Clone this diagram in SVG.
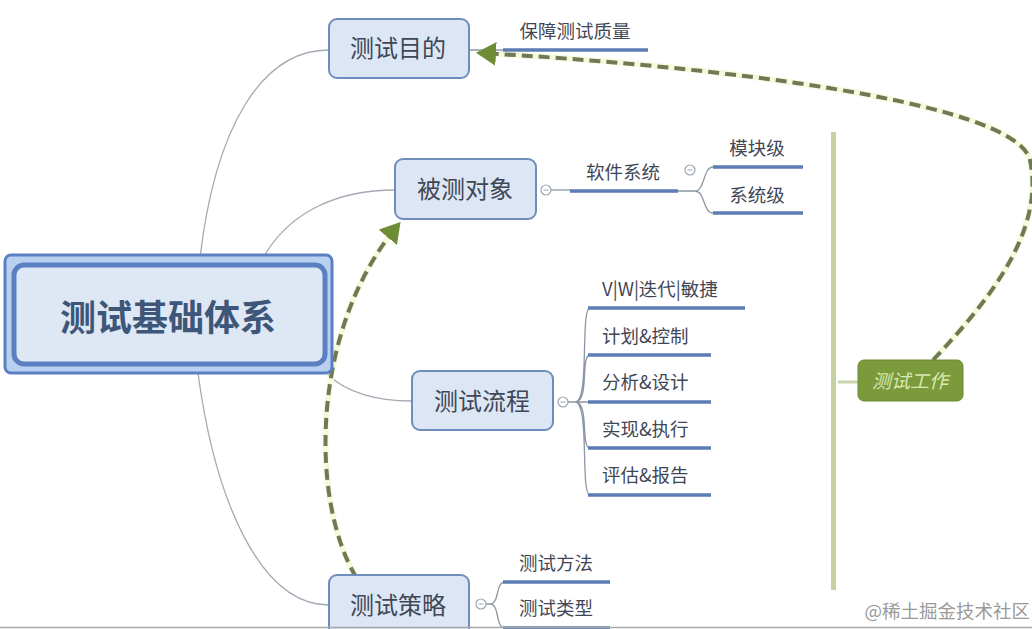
<svg xmlns="http://www.w3.org/2000/svg" width="1032" height="629" viewBox="0 0 1032 629">
<style>
.t{font-family:"Noto Sans CJK SC","Liberation Sans",sans-serif;fill:#3f4756}
.n{fill:#dce6f4;stroke:#6f8dbb;stroke-width:2}
.ul{stroke:#5b7db3;stroke-width:3.5;fill:none}
.br{stroke:#8c97a5;stroke-width:1.3;fill:none}
.main{stroke:#a3aab3;stroke-width:1.3;fill:none}
.dash{stroke:#6f7a55;stroke-width:4;fill:none;stroke-dasharray:11 6}
.glow{stroke:#f6f9dc;stroke-width:6;fill:none}
.c{fill:#fff;stroke:#9aa6b4;stroke-width:1.2}
.m{font-size:24px}
.l{font-size:18.5px}
</style>
<defs>
<marker id="ah" markerWidth="6" markerHeight="6" refX="4" refY="3" orient="auto" markerUnits="strokeWidth">
<path d="M0,0 L5,3 L0,6 z" fill="#6e8c36"/>
</marker>
</defs>
<rect width="1032" height="629" fill="#ffffff"/>
<g id="connectors">
<path class="main" d="M200 258 C215 130 260 50 329 50"/>
<path class="main" d="M263 258 C290 210 340 190 395 190"/>
<path class="main" d="M328 375 C350 395 380 401 412 401"/>
<path class="main" d="M198 373 C215 500 260 605 329 605"/>
<path class="br" d="M469 50 L503 50"/>
<path class="br" d="M551 190 L570 190"/>
<path class="br" d="M678 191 L695 191 C705 191 703 167 713 167 M695 191 C705 191 703 213 713 213"/>
<path class="br" d="M568 402 L575 402 C590 402 580 308 590 308 M575 402 C590 402 580 355 590 355 M575 402 L590 402 M575 402 C590 402 580 448 590 448 M575 402 C590 402 580 495 590 495"/>
<path class="br" d="M486 604 L490 604 C500 604 495 582 505 582 M490 604 C500 604 495 628 505 628"/>
<path d="M838 382 L858 382" stroke="#c9d3a8" stroke-width="3"/>
<path class="glow" d="M933 360 C990 300 1045 230 1030 160 C1015 100 700 65 480 53"/>
<path class="dash" d="M933 360 C990 300 1045 230 1030 160 C1015 100 700 65 480 53" marker-end="url(#ah)"/>
<path class="glow" d="M356 577 C310 500 310 330 398 225"/>
<path class="dash" d="M356 577 C310 500 310 330 398 225" marker-end="url(#ah)"/>
</g>
<g id="node-root">
<rect x="5" y="255" width="327" height="118" rx="6" fill="#b9d0f0" stroke="#5b80c2" stroke-width="3"/>
<rect x="14" y="265" width="311" height="99" rx="10" fill="#dee7f4" stroke="#5b80c2" stroke-width="5"/>
<text class="t" x="168" y="331" font-size="36" font-weight="bold" text-anchor="middle" style="fill:#3e5678">测试基础体系</text>
</g>
<g id="node-purpose">
<rect class="n" x="329" y="19" width="140" height="59" rx="8"/>
<text class="t m" x="398" y="57" text-anchor="middle">测试目的</text>
<path class="ul" d="M503 50 L648 50"/>
<text class="t l" x="575" y="38" text-anchor="middle">保障测试质量</text>
</g>
<g id="node-object">
<rect class="n" x="395" y="159" width="141" height="60" rx="8"/>
<text class="t m" x="465" y="198" text-anchor="middle">被测对象</text>
<circle class="c" cx="546" cy="190" r="5"/><path d="M543.5 190 H548.5" stroke="#9aa6b4"/>
<path class="ul" d="M570 191 L678 191"/>
<text class="t l" x="623" y="179" text-anchor="middle">软件系统</text>
<circle class="c" cx="690" cy="170" r="5"/><path d="M687.5 170 H692.5" stroke="#9aa6b4"/>
<path class="ul" d="M713 167 L803 167"/>
<text class="t l" x="757" y="155" text-anchor="middle">模块级</text>
<path class="ul" d="M713 213 L803 213"/>
<text class="t l" x="757" y="202" text-anchor="middle">系统级</text>
</g>
<g id="node-process">
<rect class="n" x="412" y="371" width="141" height="59" rx="8"/>
<text class="t m" x="482" y="410" text-anchor="middle">测试流程</text>
<circle class="c" cx="563" cy="402" r="5"/><path d="M560.5 402 H565.5" stroke="#9aa6b4"/>
<path class="ul" d="M588 308 L745 308"/>
<text class="t l" x="602" y="296">V|W|迭代|敏捷</text>
<path class="ul" d="M588 355 L711 355"/>
<text class="t l" x="602" y="343">计划&amp;控制</text>
<path class="ul" d="M588 402 L711 402"/>
<text class="t l" x="602" y="389">分析&amp;设计</text>
<path class="ul" d="M588 448 L711 448"/>
<text class="t l" x="602" y="436">实现&amp;执行</text>
<path class="ul" d="M588 495 L711 495"/>
<text class="t l" x="602" y="482">评估&amp;报告</text>
</g>
<g id="node-strategy">
<rect class="n" x="329" y="575" width="140" height="70" rx="8"/>
<text class="t m" x="398" y="614" text-anchor="middle">测试策略</text>
<circle class="c" cx="481" cy="604" r="5"/><path d="M478.5 604 H483.5" stroke="#9aa6b4"/>
<path class="ul" d="M503 582 L610 582"/>
<text class="t l" x="556" y="570" text-anchor="middle">测试方法</text>
<path class="ul" d="M503 628 L610 628"/>
<text class="t l" x="556" y="615" text-anchor="middle">测试类型</text>
</g>
<g id="node-work">
<rect x="831" y="132" width="5" height="458" fill="#c7d2a3"/>
<rect x="858" y="360" width="105" height="41" rx="6" fill="#7a9a3c" stroke="#6d8a33" stroke-width="1"/>
<text x="910" y="388" font-size="19" font-style="italic" text-anchor="middle" font-family="Noto Sans CJK SC, sans-serif" fill="#d9e9b0">测试工作</text>
</g>
<line x1="0" y1="627.5" x2="1032" y2="627.5" stroke="#a9a9a9" stroke-width="1.5"/>
<text x="1030" y="618" font-size="18.5" text-anchor="end" font-family="Noto Sans CJK SC, sans-serif" fill="#9a9a9a">@稀土掘金技术社区</text>
</svg>
